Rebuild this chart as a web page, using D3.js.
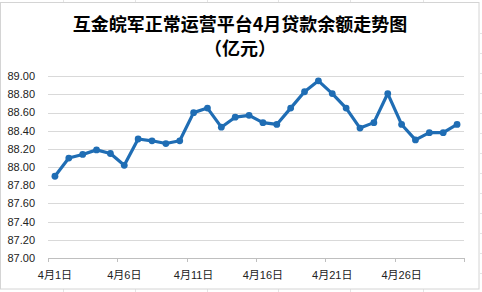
<!DOCTYPE html>
<html>
<head>
<meta charset="utf-8">
<script src="https://cdn.jsdelivr.net/npm/d3@7"></script>
<style>
body { margin:0; background:#fff; }
svg { display:block; }
</style>
</head>
<body>
<svg id="chart" width="482" height="292"></svg>
<script>
// April daily loan balance (100M yuan)
var days = d3.range(1, 31).map(function(d){ return "4月" + d + "日"; });
var balances = [87.90, 88.10, 88.14, 88.19, 88.15, 88.02, 88.31, 88.29, 88.26, 88.29,
                88.60, 88.65, 88.44, 88.55, 88.57, 88.49, 88.47, 88.65, 88.83, 88.95,
                88.81, 88.65, 88.43, 88.49, 88.81, 88.47, 88.30, 88.38, 88.38, 88.47];
var yTicks = [87.00, 87.20, 87.40, 87.60, 87.80, 88.00, 88.20, 88.40, 88.60, 88.80, 89.00];
var tickDays = ["4月1日", "4月6日", "4月11日", "4月16日", "4月21日", "4月26日"];
var titleLines = ["互金皖军正常运营平台4月贷款余额走势图", "（亿元）"];

var svg = d3.select("#chart");
var plotLeft = 48, plotRight = 464, plotTop = 76.3, plotBottom = 258;

// faint spreadsheet cells behind the chart
var cells = svg.append("g").attr("stroke", "#e4e4e4").attr("stroke-width", 1);
[63, 135, 207, 278, 350, 423].forEach(function(x){
  cells.append("line").attr("x1", x + .5).attr("x2", x + .5).attr("y1", 0).attr("y2", 3);
  cells.append("line").attr("x1", x + .5).attr("x2", x + .5).attr("y1", 289).attr("y2", 292);
});
[33, 53, 73, 93, 113, 133, 153, 173, 193, 213, 233, 253, 273].forEach(function(y){
  cells.append("line").attr("x1", 480).attr("x2", 482).attr("y1", y + .5).attr("y2", y + .5);
});
svg.append("rect").attr("x", 0.5).attr("y", 2.5).attr("width", 478.5).attr("height", 286.5)
  .attr("fill", "#fff").attr("stroke", "#d4d4d4");

var x = d3.scaleBand().domain(days).range([plotLeft, plotRight]);
var y = d3.scaleLinear().domain([87, 89]).range([plotBottom, plotTop]);

// gridlines
svg.append("g").selectAll("line").data(yTicks.slice(1)).enter().append("line")
  .attr("x1", plotLeft).attr("x2", plotRight)
  .attr("y1", function(d){ return Math.round(y(d)) + .5; })
  .attr("y2", function(d){ return Math.round(y(d)) + .5; })
  .attr("stroke", "#d9d9d9").attr("stroke-width", 1);

// y labels
svg.append("g").selectAll("text").data(yTicks).enter().append("text")
  .attr("x", 35).attr("y", function(d){ return y(d); })
  .attr("dy", "0.35em").attr("text-anchor", "end")
  .style("font-family", "'Liberation Sans', Arial, sans-serif").style("font-size", "11px")
  .attr("fill", "#222")
  .text(function(d){ return d.toFixed(2); });

// x axis line + ticks at category boundaries every 5 days
var xAxis = svg.append("g").attr("stroke", "#bfbfbf");
xAxis.append("line").attr("x1", plotLeft).attr("x2", plotRight)
  .attr("y1", Math.round(plotBottom) + .5).attr("y2", Math.round(plotBottom) + .5);
var bounds = [0, 5, 10, 15, 20, 25, 30];
xAxis.selectAll("line.tk").data(bounds).enter().append("line").attr("class", "tk")
  .attr("x1", function(i){ return Math.round(plotLeft + i * x.step()) + .5; })
  .attr("x2", function(i){ return Math.round(plotLeft + i * x.step()) + .5; })
  .attr("y1", plotBottom).attr("y2", plotBottom + 4);

svg.append("g").selectAll("text").data(tickDays).enter().append("text")
  .attr("x", function(d){ return x(d) + x.bandwidth() / 2; })
  .attr("y", 279).attr("text-anchor", "middle")
  .style("font-family", "'Liberation Sans', 'Noto Sans CJK SC', sans-serif").style("font-size", "11px")
  .attr("fill", "#222")
  .text(function(d){ return d; });

// series
var line = d3.line()
  .x(function(d, i){ return x(days[i]) + x.bandwidth() / 2; })
  .y(function(d){ return y(d); });
svg.append("path").datum(balances).attr("d", line)
  .attr("fill", "none").attr("stroke", "#1f6db4").attr("stroke-width", 3.2)
  .attr("stroke-linejoin", "round");
svg.append("g").selectAll("circle").data(balances).enter().append("circle")
  .attr("cx", function(d, i){ return x(days[i]) + x.bandwidth() / 2; })
  .attr("cy", function(d){ return y(d); })
  .attr("r", 3.4).attr("fill", "#1f6db4");

// title
svg.append("g").selectAll("text").data(titleLines).enter().append("text")
  .attr("x", 240).attr("y", function(d, i){ return 31 + i * 24; })
  .attr("text-anchor", "middle")
  .style("font-family", "'Noto Sans CJK SC', sans-serif").style("font-size", "18px")
  .style("font-weight", "bold").attr("fill", "#000")
  .text(function(d){ return d; });
</script>
</body>
</html>
